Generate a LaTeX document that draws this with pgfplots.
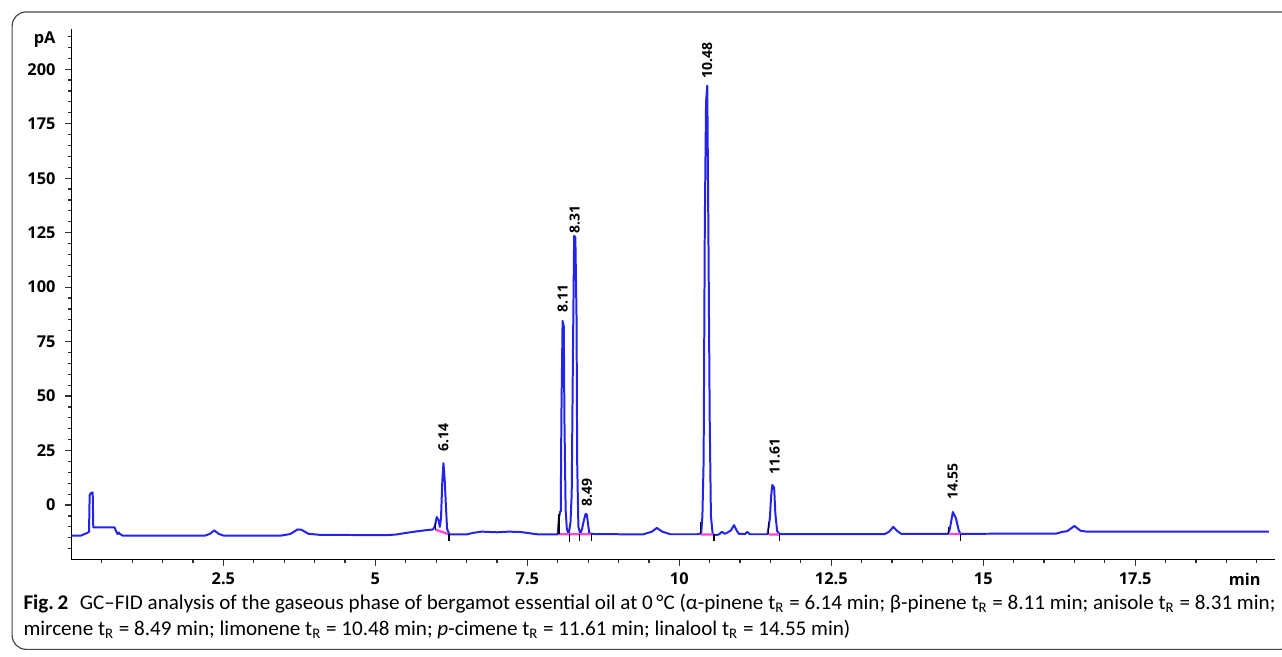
\documentclass[border=0pt]{standalone}
\usepackage{pgfplots}
\pgfplotsset{compat=1.18}
\usepackage{graphicx}
\usepackage{fontspec}
\setmainfont{Open Sans}
\newfontfamily\capfont{Carlito}

\definecolor{trace}{RGB}{35,35,235}
\definecolor{intbase}{RGB}{255,70,215}
\definecolor{frame}{RGB}{70,70,70}

% caption lines, width fitted to the reference
\newsavebox\capA
\newsavebox\capB
\sbox\capA{\capfont\fontsize{10.5}{12}\selectfont\textbf{Fig.\,2}\hspace{0.55em}GC–FID analysis of the gaseous phase of bergamot essential oil at 0\,°C (α-pinene t\textsubscript{R} = 6.14 min; β-pinene t\textsubscript{R} = 8.11 min; anisole t\textsubscript{R} = 8.31 min;}
\sbox\capB{\capfont\fontsize{10.5}{12}\selectfont mircene t\textsubscript{R} = 8.49 min; limonene t\textsubscript{R} = 10.48 min; \textit{p}-cimene t\textsubscript{R} = 11.61 min; linalool t\textsubscript{R} = 14.55 min)}

\begin{document}
\pgfmathsetmacro\capsx{628.5pt/\wd\capA}
\begin{tikzpicture}
\begin{scope}[x=0.5pt,y=-0.5pt]
\useasboundingbox (0,0) rectangle (1282,659);
\draw[frame, line width=0.6pt, rounded corners=7pt] (7,12) rectangle (1295,652);
\node[anchor=base west, inner sep=0] at (18,612) {\scalebox{\capsx}[1]{\usebox\capA}};
\node[anchor=base west, inner sep=0] at (18,638) {\scalebox{\capsx}[1]{\usebox\capB}};
\end{scope}

\begin{axis}[
    at={(33.25pt,-281pt)}, anchor=south west,
    scale only axis,
    width=604.25pt, height=266.5pt,
    xmin=0, xmax=19.8,
    ymin=-25.1, ymax=218.5,
    axis lines*=left,
    axis line style={-, line width=0.7pt, black},
    tick align=outside,
    xtick={2.5,5,7.5,10,12.5,15,17.5},
    ytick={0,25,...,200},
    minor xtick={0.5,1,...,19.5},
    minor ytick={-20,-15,...,215},
    major tick length=3pt,
    minor tick length=1.8pt,
    every tick/.style={black!80, line width=0.6pt},
    tick label style={font=\fontsize{8.2}{10}\selectfont\bfseries},
    /pgf/number format/assume math mode=true,
    yticklabel style={xshift=-1.5pt},
    extra x ticks={19.3},
    extra x tick labels={min},
    extra x tick style={tick style={draw=none}},
    extra y ticks={213.4},
    extra y tick labels={pA},
    extra y tick style={tick style={draw=none}},
    clip=false,
]

% chromatogram trace
\addplot[trace, line width=1pt, line join=round] coordinates {
    (0,-14.0) (0.16,-14.0) (0.2,-13.5) (0.26,-12.8) (0.29,-12.3)
    (0.30,4.5) (0.32,5.5) (0.35,5.8) (0.36,-10.3) (0.71,-10.3)
    (0.74,-12.3) (0.76,-13.3) (0.78,-12.6) (0.80,-13.3) (0.84,-14.0)
    (2.2,-14.0) (2.28,-13.2) (2.35,-11.6) (2.42,-13.2) (2.5,-14.0)
    (3.45,-14.0) (3.6,-13.3) (3.72,-11.2) (3.78,-11.3) (3.9,-13.2)
    (4.1,-13.7) (5.2,-13.8) (5.35,-13.5) (5.5,-12.8) (5.7,-12.0)
    (5.85,-11.5) (5.95,-11.2) (5.98,-9.5) (6.01,-5.5) (6.04,-7)
    (6.06,-10) (6.08,-6) (6.10,10) (6.12,19.2) (6.14,12)
    (6.16,0) (6.18,-11) (6.22,-13.5) (6.5,-13.5) (6.6,-12.8)
    (6.75,-12.2) (7.0,-12.5) (7.2,-12.2) (7.4,-12.4) (7.6,-13.2)
    (7.7,-13.5) (8.0,-13.5) (8.02,-6) (8.04,-3) (8.05,-3)
    (8.06,40) (8.08,84.5) (8.10,82) (8.11,40) (8.13,-2)
    (8.15,-11) (8.18,-13.2) (8.21,-8) (8.23,5) (8.25,68)
    (8.27,123.5) (8.29,123) (8.31,85) (8.32,20) (8.34,-10)
    (8.37,-13.2) (8.40,-11) (8.43,-7) (8.46,-4) (8.48,-4.5)
    (8.5,-9) (8.52,-13) (8.6,-13.3) (9.4,-13.5) (9.55,-12.2)
    (9.63,-10.5) (9.72,-12.2) (9.85,-13.4) (10.3,-13.4) (10.36,-13)
    (10.38,-5) (10.40,20) (10.42,130) (10.44,185) (10.46,192.5)
    (10.48,120) (10.50,40) (10.52,-5) (10.55,-13.5) (10.6,-13.8)
    (10.65,-13.5) (10.7,-12.3) (10.75,-13.2) (10.8,-12.5) (10.85,-11.6)
    (10.9,-9.2) (10.94,-11.5) (10.98,-13.2) (11.08,-13.3) (11.12,-12.3)
    (11.16,-13.4) (11.45,-13.4) (11.47,-10) (11.49,-6) (11.51,4)
    (11.53,9.2) (11.56,8) (11.58,-4) (11.61,-12) (11.65,-13.4)
    (13.38,-13.3) (13.45,-12.3) (13.52,-10) (13.58,-11.8) (13.65,-13.2)
    (14.42,-13.2) (14.45,-11) (14.5,-3.2) (14.55,-6) (14.6,-12)
    (14.63,-13.2) (16.2,-13.1) (16.3,-12.3) (16.38,-12) (16.5,-9.6)
    (16.6,-11.8) (16.7,-12.2) (19.7,-12.2)
};

% integration baselines
\addplot[intbase, line width=1.2pt, unbounded coords=jump] coordinates {
    (5.99,-11.3) (6.2,-13.3) (6.2,nan)
    (8.02,-13.4) (8.54,-13.4) (8.54,nan)
    (10.35,-13.5) (10.57,-13.5) (10.57,nan)
    (11.47,-13.5) (11.64,-13.5) (11.64,nan)
    (14.43,-13.3) (14.63,-13.3)
};

% integration marks
\addplot[black, line width=0.6pt, unbounded coords=jump] coordinates {
    (5.99,-11.3) (5.99,-8) (5.99,nan)
    (6.21,-13.3) (6.21,-16.3) (6.21,nan)
    (8.02,-13.4) (8.02,-4) (8.02,nan)
    (8.19,-13.4) (8.19,-17) (8.19,nan)
    (8.36,-13.4) (8.36,-16.3) (8.36,nan)
    (8.55,-13.4) (8.55,-16.3) (8.55,nan)
    (10.35,-13.5) (10.35,-8) (10.35,nan)
    (10.57,-13.5) (10.57,-16.5) (10.57,nan)
    (11.47,-13.5) (11.47,-8) (11.47,nan)
    (11.65,-13.5) (11.65,-16.5) (11.65,nan)
    (14.43,-13.3) (14.43,-10) (14.43,nan)
    (14.63,-13.3) (14.63,-16.3)
};

% retention time labels
\begin{scope}[every node/.style={rotate=90, anchor=west, inner sep=0pt,
    font=\fontsize{7}{8}\selectfont\bfseries}]
\node at (axis cs:6.12,24.5) {6.14};
\node at (axis cs:8.08,88) {8.11};
\node at (axis cs:8.28,124.5) {8.31};
\node at (axis cs:8.48,-1) {8.49};
\node at (axis cs:10.46,195.5) {10.48};
\node at (axis cs:11.57,13.7) {11.61};
\node at (axis cs:14.5,2.4) {14.55};
\end{scope}

\end{axis}
\end{tikzpicture}
\end{document}
